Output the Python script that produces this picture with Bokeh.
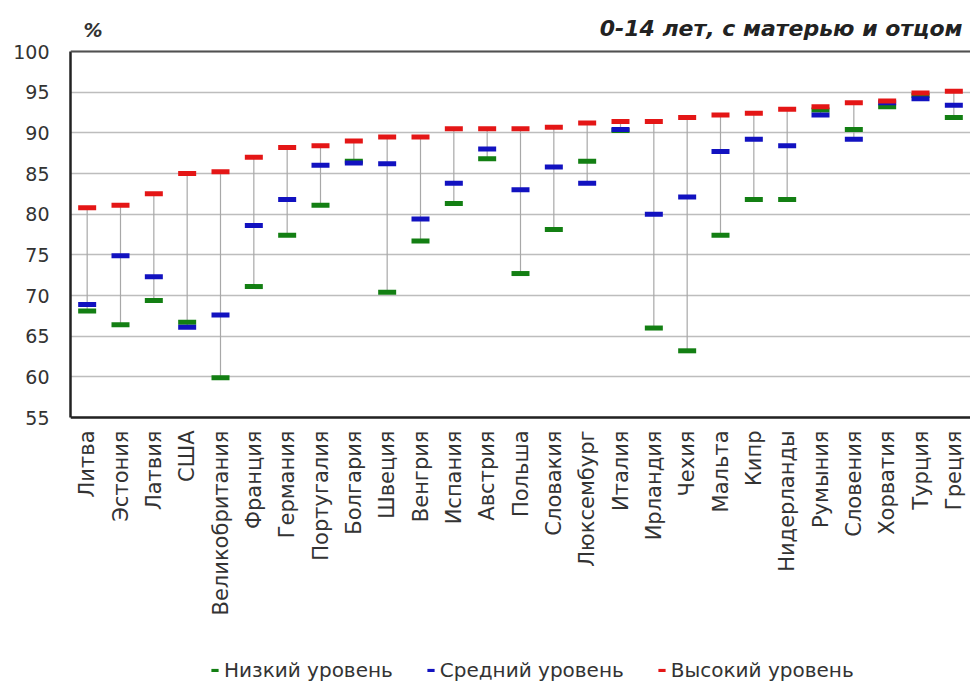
import math
from bokeh.plotting import figure
from bokeh.models import (ColumnDataSource, Label, Legend, LegendItem,
                          FixedTicker, Range1d, FactorRange, Span)
from bokeh.core.properties import value
from bokeh.embed import file_html
from bokeh.resources import INLINE

countries = ["Литва", "Эстония", "Латвия", "США", "Великобритания", "Франция",
             "Германия", "Португалия", "Болгария", "Швеция", "Венгрия", "Испания",
             "Австрия", "Польша", "Словакия", "Люксембург", "Италия", "Ирландия",
             "Чехия", "Мальта", "Кипр", "Нидерланды", "Румыния", "Словения",
             "Хорватия", "Турция", "Греция"]
low = [68.1, 66.4, 69.4, 66.7, 59.9, 71.1, 77.4, 81.1, 86.5, 70.4, 76.7, 81.3,
       86.8, 72.7, 78.1, 86.5, 90.3, 66.0, 63.2, 77.4, 81.8, 81.8, 92.8, 90.4,
       93.2, 94.6, 91.9]
mid = [68.9, 74.9, 72.3, 66.1, 67.6, 78.6, 81.8, 86.0, 86.3, 86.2, 79.4, 83.8,
       88.0, 83.0, 85.8, 83.8, 90.4, 80.0, 82.1, 87.7, 89.2, 88.4, 92.2, 89.2,
       93.7, 94.2, 93.4]
high = [80.8, 81.1, 82.5, 85.0, 85.2, 87.0, 88.2, 88.4, 89.0, 89.5, 89.5, 90.5,
        90.5, 90.5, 90.7, 91.2, 91.4, 91.4, 91.9, 92.2, 92.4, 92.9, 93.2, 93.7,
        93.9, 94.9, 95.1]
y_ticks = [55, 60, 65, 70, 75, 80, 85, 90, 95, 100]

series_names = ["Низкий уровень", "Средний уровень", "Высокий уровень"]
series_colors = ["#137f13", "#1212c0", "#e41616"]

src = ColumnDataSource(dict(
    country=countries, low=low, mid=mid, high=high,
    lo=[min(a, b, c) for a, b, c in zip(low, mid, high)],
    hi=[max(a, b, c) for a, b, c in zip(low, mid, high)],
))

# layout: the frame covers the whole page height; the value axis spans
# from page y=51 (100) to page y=417 (55)
FRAME_H = 684
TOP_PX, BOT_PX = 51, 417
ppu = (BOT_PX - TOP_PX) / (y_ticks[-1] - y_ticks[0])
y_top = y_ticks[-1] + TOP_PX / ppu
y_bot = y_ticks[0] - (FRAME_H - BOT_PX) / ppu

p = figure(x_range=FactorRange(*countries, range_padding=0),
           y_range=Range1d(y_bot, y_top),
           frame_width=900, frame_height=FRAME_H,
           min_border_left=70, min_border_top=0, min_border_right=0,
           min_border_bottom=0,
           output_backend="svg", toolbar_location=None,
           background_fill_color="white", border_fill_color="white")
p.outline_line_color = None

p.xgrid.grid_line_color = None
p.ygrid.grid_line_color = "#bdbdbd"
p.ygrid.grid_line_width = 1.6
p.ygrid.ticker = FixedTicker(ticks=y_ticks)
p.add_layout(Span(location=y_ticks[-1], dimension="width",
                  line_color="#505050", line_width=2.2))
p.add_layout(Span(location=y_ticks[0], dimension="width",
                  line_color="#222222", line_width=2.5))

p.segment(x0="country", y0="lo", x1="country", y1="hi", source=src,
          line_color="#a8a8a8", line_width=1.2)

renderers = []
for col, color in zip(["low", "mid", "high"], series_colors):
    r = p.rect(x="country", y=col, width=0.54, height=5, height_units="screen",
               source=src, fill_color=color, line_color=None)
    renderers.append(r)

# category labels under the value axis, reading bottom-to-top
p.text(x="country", y=y_ticks[0], text="country", source=src,
       angle=math.pi / 2, text_align="right", text_baseline="middle",
       y_offset=13, text_font=value("DejaVu Sans"), text_font_size="21px",
       text_color="#333333")
p.xaxis.visible = False

# value axis
p.yaxis.ticker = FixedTicker(ticks=y_ticks)
p.yaxis.bounds = (y_ticks[0], y_ticks[-1])
p.yaxis.major_label_text_font = "DejaVu Sans"
p.yaxis.major_label_text_font_size = "19px"
p.yaxis.major_label_text_color = "#333333"
p.yaxis.major_tick_line_color = None
p.yaxis.minor_tick_line_color = None
p.yaxis.axis_line_color = "#222222"
p.yaxis.axis_line_width = 2.5
p.yaxis.major_label_standoff = 15

# header texts
p.add_layout(Label(x=13, y=FRAME_H - 40, x_units="screen", y_units="screen",
                   text="%", text_font="DejaVu Sans",
                   text_font_style="bold italic",
                   text_font_size="19px", text_color="#333333"))
p.add_layout(Label(x=892, y=FRAME_H - 40, x_units="screen", y_units="screen",
                   text="0-14 лет, с матерью и отцом", text_align="right",
                   text_font="DejaVu Sans", text_font_style="bold italic",
                   text_font_size="22px", text_color="#222222"))

legend = Legend(items=[LegendItem(label=n, renderers=[r])
                       for n, r in zip(series_names, renderers)],
                orientation="horizontal", location=(140, FRAME_H - 682),
                glyph_width=9, glyph_height=4, label_height=20,
                label_text_font="DejaVu Sans",
                label_text_font_size="20px", label_text_color="#333333",
                spacing=33, padding=0, margin=0, border_line_color=None,
                background_fill_alpha=0, label_standoff=5)
p.add_layout(legend, "center")

open("out.html", "w").write(file_html(p, INLINE))
